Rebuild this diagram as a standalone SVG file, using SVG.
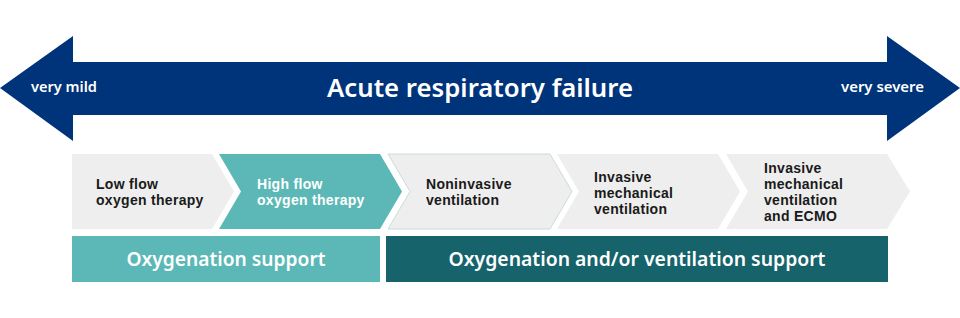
<svg xmlns="http://www.w3.org/2000/svg" width="960" height="318" viewBox="0 0 960 318">
<style>
.t{font-family:"Noto Sans","Open Sans","Liberation Sans",sans-serif;font-weight:600}
.c{font-family:"Liberation Sans",Arial,sans-serif;font-weight:700;font-size:14px;letter-spacing:0.3px}
.w{fill:#ffffff}
.k{fill:#1a1a1a}
.s14{font-size:14px}
.grey{fill:#eeeeee}
.grey2{fill:#eeeeee;stroke:#c9dcdd;stroke-width:1}
.teal{fill:#5bb8b6}
.dteal{fill:#16636c}
</style>
<rect width="960" height="318" fill="#ffffff"/>
<g id="scale-arrow">
<polygon points="0,88 73,36 73,62 887,62 887,36 960,88 887,141 887,115 73,115 73,141" fill="#00347a"/>
<text class="t w" x="480" y="97" font-size="25" text-anchor="middle" textLength="306" lengthAdjust="spacingAndGlyphs">Acute respiratory failure</text>
<text class="t w s14" x="31" y="92" textLength="66" lengthAdjust="spacingAndGlyphs">very mild</text>
<text class="t w s14" x="841" y="92" textLength="83" lengthAdjust="spacingAndGlyphs">very severe</text>
</g>
<g id="connectors"></g>
<g id="low-flow">
<polygon class="grey" points="72,154 212,154 234,191.5 212,229 72,229"/>
<text class="c k"><tspan x="96" y="189">Low flow</tspan><tspan x="96" y="205">oxygen therapy</tspan></text>
</g>
<g id="high-flow">
<polygon class="teal" points="219,154 380,154 402,191.5 380,229 219,229 241,191.5"/>
<text class="c w"><tspan x="257" y="189">High flow</tspan><tspan x="257" y="205">oxygen therapy</tspan></text>
</g>
<g id="noninvasive">
<polygon class="grey2" points="388,154 550,154 572,191.5 550,229 388,229 410,191.5"/>
<text class="c k"><tspan x="426" y="189">Noninvasive</tspan><tspan x="426" y="205">ventilation</tspan></text>
</g>
<g id="invasive">
<polygon class="grey" points="557,154 718,154 740,191.5 718,229 557,229 579,191.5"/>
<text class="c k"><tspan x="594" y="182">Invasive</tspan><tspan x="594" y="197.8">mechanical</tspan><tspan x="594" y="213.6">ventilation</tspan></text>
</g>
<g id="ecmo">
<polygon class="grey" points="726,154 887,154 910,191.5 887,229 726,229 748,191.5"/>
<text class="c k"><tspan x="764" y="173.3">Invasive</tspan><tspan x="764" y="189.1">mechanical</tspan><tspan x="764" y="204.9">ventilation</tspan><tspan x="764" y="220.7">and ECMO</tspan></text>
</g>
<g id="oxygenation-support">
<rect class="teal" x="72" y="236" width="308" height="46"/>
<text class="t w" x="226" y="266" font-size="19" text-anchor="middle" textLength="199" lengthAdjust="spacingAndGlyphs">Oxygenation support</text>
</g>
<g id="ventilation-support">
<rect class="dteal" x="386" y="236" width="502" height="46"/>
<text class="t w" x="637" y="266" font-size="19" text-anchor="middle" textLength="377" lengthAdjust="spacingAndGlyphs">Oxygenation and/or ventilation support</text>
</g>
</svg>
